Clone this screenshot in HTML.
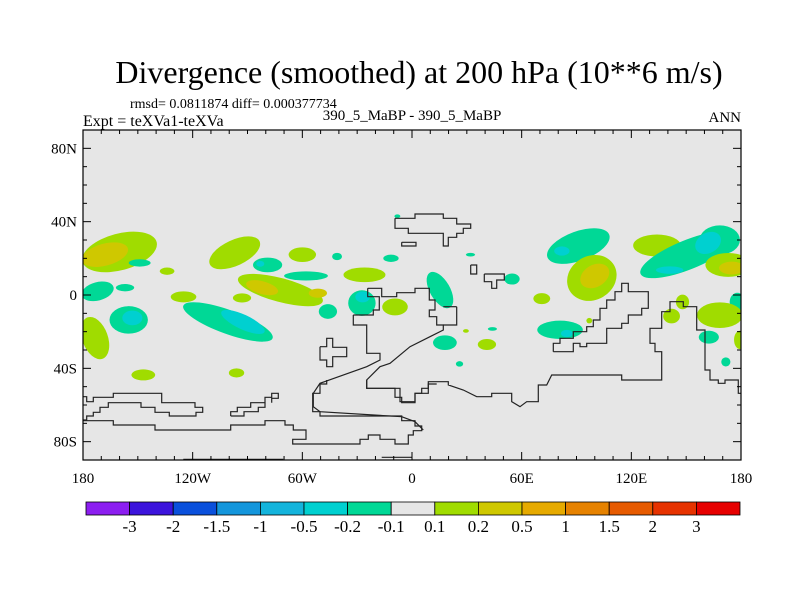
<!DOCTYPE html>
<html><head><meta charset="utf-8"><style>
body{margin:0;background:#fff;}
svg{display:block;font-family:"Liberation Serif",serif;}
</style></head><body>
<svg id="chart" width="800" height="600" viewBox="0 0 800 600" xmlns="http://www.w3.org/2000/svg">
<text x="419" y="83" font-size="32" text-anchor="middle">Divergence (smoothed) at 200 hPa (10**6 m/s)</text>
<text x="130" y="108" font-size="14">rmsd= 0.0811874 diff= 0.000377734</text>
<text x="83" y="126" font-size="16">Expt = teXVa1-teXVa</text>
<text x="412" y="120" font-size="15" text-anchor="middle">390_5_MaBP - 390_5_MaBP</text>
<text x="741" y="122" font-size="15" text-anchor="end">ANN</text>
<defs><clipPath id="clip"><rect x="83" y="130" width="658" height="330"/></clipPath></defs>
<rect x="83" y="130" width="658" height="330" fill="#e6e6e6"/>
<g id="fields" clip-path="url(#clip)"></g>
<g id="coast" clip-path="url(#clip)" fill="none" stroke="#222" stroke-width="1.2"></g>
<rect x="83" y="130" width="658" height="330" fill="none" stroke="#000" stroke-width="1.2"/>
<g id="ticks" stroke="#000" stroke-width="1"></g>
<g id="labels" font-size="15"></g>
<g id="colorbar"></g>
</svg>
<script>
// contour blobs: lon, lat, half-widths (deg), value
const blobLon=[-160,-168,-149,-134,-97,-60,-79,-83,-41,-11.5,-58,-26,-172,-157,-125,-72,-82,-51.5,-93,-46,-155,-153,-100.7,-92.5,-173.4,-147,-96,-27.4,-27,-9.3,15.3,18,41,44,29.5,26,32,54.7,-8,71,81,84.7,97,91,82,98.4,100,134,151,168.4,162,141,173,175,178,148,168.4,142,162.4,179.4,171.7];
const blobLat=[23.5,22,17.5,13,23,22,16.4,17,21,20,10.4,11,2,4,-1,2.7,4,1,-1.6,-9,-13.6,-12.5,-14.7,-14.7,-23.5,-43.6,-42.5,-4.4,-1,-6.5,2.7,-26,-27,-18.5,-19.6,-37.6,22,8.7,43,-2,-19,-21,-14,26.7,24,9.3,10.4,27,22,30,28.4,13.6,16.4,14.7,-3.8,-3.8,-11,-11.5,-23,-24.5,-36.5];
const blobRLon=[21,13,6,4,15,7.5,8,2.2,2.7,4.2,12,11.5,9,5,7,24,9,5,5,5,10.5,5.5,26,13,7,6.5,4.2,7.5,4,7,5.5,6.5,5,2.5,1.6,2,2.5,4.2,1.6,4.6,12.5,3.2,1.6,18,4.2,14,8.5,13,28,11,7.5,7.5,12.5,7,4.2,3.6,12.5,4.6,5.5,3.2,2.5];
const blobRLat=[10,6,2,2,7,4,4,1.6,2,2,2.5,4,5,2,3,6.5,3.5,2.5,2.5,4,7.5,4,6.5,4,12,3,2.5,7,3,4.6,11,4,3,1,1,1.5,1,3,1,3,5,2,1.5,8,2.5,12,6,6,8,8,5.5,2,6.5,3.5,5,4,7,4,3.5,5,2.5];
const blobTilt=[-15,-15,0,0,-25,0,0,0,0,0,0,0,-15,0,0,15,15,0,0,0,0,0,20,25,-20,0,0,0,0,0,-30,0,0,0,0,0,0,0,0,0,0,0,0,-20,0,-30,-30,0,-22,0,-30,0,0,0,0,0,0,0,0,0,0];
const blobVal=[0.15,0.3,-0.15,0.15,0.15,0.15,-0.15,-0.3,-0.15,-0.15,-0.15,0.15,-0.15,-0.15,0.15,0.15,0.3,0.3,0.15,-0.15,-0.15,-0.3,-0.15,-0.3,0.15,0.15,0.15,-0.15,-0.3,0.15,-0.15,-0.15,0.15,-0.15,0.15,-0.15,-0.15,-0.15,-0.15,0.15,-0.15,-0.3,0.15,-0.15,-0.3,0.15,0.3,0.15,-0.15,-0.15,-0.3,-0.3,0.15,0.3,-0.15,0.15,0.15,0.15,-0.15,0.15,-0.15];
const levels=[-3,-2,-1.5,-1,-0.5,-0.2,-0.1,0.1,0.2,0.5,1,1.5,2,3];
const levelColors=["#8c1ef0","#3c14dc","#0a50dc","#1496dc","#14b4dc","#00d0d0","#00d896","#e6e6e6","#a0dc00","#cfc800","#e6aa00","#e68200","#e65a00","#e63200","#e60000"];
const lonTicks=[-180,-120,-60,0,60,120,180];
const lonTickLabels=["180","120W","60W","0","60E","120E","180"];
const latTicks=[80,40,0,-40,-80];
const latTickLabels=["80N","40N","0","40S","80S"];

const X0=83,X1=741,Y0=130,Y1=460;
const xs=lon=>X0+(lon+180)/360*(X1-X0);
const ys=lat=>Y0+(90-lat)/180*(Y1-Y0);
const NS="http://www.w3.org/2000/svg";
function mk(t,p,a){const e=document.createElementNS(NS,t);for(const k in a)e.setAttribute(k,a[k]);p.appendChild(e);return e;}
function colorFor(v){let i=0;while(i<levels.length&&v>=levels[i])i++;return levelColors[i];}

const fg=document.getElementById('fields');
const order=blobVal.map((v,i)=>i).sort((a,b)=>Math.abs(blobVal[a])-Math.abs(blobVal[b]));
order.forEach(i=>{
  const cx=xs(blobLon[i]),cy=ys(blobLat[i]);
  const e=mk('ellipse',fg,{cx:cx,cy:cy,rx:blobRLon[i]/360*(X1-X0),ry:blobRLat[i]/180*(Y1-Y0),fill:colorFor(blobVal[i]),transform:`rotate(${blobTilt[i]} ${cx} ${cy})`});
  
  
});

// coastlines (geographic outlines, zoom-space coordinates)
const cg=document.getElementById('coast');
function line(pts,ox,oy,s,name){const p=mk('polyline',cg,{points:pts.map(q=>((q[0]/s+ox).toFixed(1))+','+((q[1]/s+oy).toFixed(1))).join(' ')});
  
  }
line([[285,55],[285,85],[325,85],[325,100],[430,100],[430,138],[445,138],[445,112],[470,112],[470,100],[490,100],[490,85],[512,85],[512,72],[470,72],[470,55],[430,55],[430,42],[345,42],[345,55],[285,55]],300,200,3,'coastline-europe');
line([[305,127],[348,127],[348,138],[305,138],[305,127]],300,200,3,'coastline-island');
line([[512,195],[530,195],[530,222],[512,222],[512,195]],300,200,3,'coastline-island');
line([[553,222],[613,222],[613,240],[590,240],[590,265],[575,265],[575,245],[553,245],[553,222]],300,200,3,'coastline-island');
line([[203,265],[245,265],[245,290],[290,290],[290,278],[345,278],[345,265],[388,265],[388,300],[405,300],[405,330],[388,330],[388,350],[410,350],[410,375],[430,375],[430,390],[390,410],[330,440],[270,490],[240,500],[200,540],[200,565],[300,565],[300,605],[345,605],[345,580],[385,580],[385,545],[445,545],[445,555],[490,570],[530,590],[575,590],[575,580],[635,580],[635,605],[660,620],[680,605],[715,605],[715,555],[740,555],[755,525],[965,525],[965,540],[1085,540],[1085,455],[1065,455],[1065,430],[1050,430],[1050,385],[1085,385],[1085,335],[1110,335],[1110,305],[1150,305],[1150,320],[1190,320],[1190,390],[1215,390],[1215,510],[1230,510],[1230,540],[1255,540],[1255,550],[1275,550],[1275,540],[1315,540],[1315,580],[1330,580]],300,200,3,'coastline-continent');
line([[470,320],[470,375],[430,375]],300,200,3,'coastline-africa');
line([[430,320],[470,320]],300,200,3,'coastline-africa');
line([[160,345],[160,375],[200,375],[200,460],[240,460],[240,480],[200,500],[60,550],[40,580],[40,620],[60,635],[305,650],[345,665],[370,690]],300,200,3,'coastline-south-america');
line([[203,265],[203,290],[238,290],[238,330],[220,330],[220,345],[160,345]],300,200,3,'coastline-south-america');
line([[760,455],[820,455],[820,430],[840,430],[840,440],[860,440],[860,430],[920,430],[920,385],[965,385],[965,370],[985,370],[985,345],[1025,345],[1025,325],[1045,325],[1045,275],[985,275],[985,250],[965,250],[965,275],[945,275],[945,300],[920,300],[920,325],[900,325],[900,360],[880,360],[880,380],[860,380],[860,395],[820,395],[820,415],[780,415],[780,430],[760,430],[760,455]],300,200,3,'coastline-asia');
line([[735,230],[755,230],[755,205],[773,205],[773,232],[815,232],[815,260],[773,260],[773,290],[755,290],[755,270],[735,270],[735,230]],75,270,3,'coastline-island');
// southern high-latitude outlines
line([[0,50],[20,50],[20,65],[40,65],[40,52],[100,52],[100,40],[245,40],[245,68],[345,68],[345,82],[368,82],[368,97],[348,97],[348,108],[268,108],[268,97],[225,97],[225,82],[183,82],[183,68],[85,68],[85,82],[60,82],[60,97],[40,97],[40,108],[20,108],[20,120],[0,120]],80,380,3,'coastline-southern-shelf');
line([[0,122],[100,122],[100,135],[225,135],[225,150],[452,150],[452,135],[555,135],[555,122],[615,122],[615,135],[640,135],[640,150],[678,150],[678,178],[638,178],[638,192],[840,192],[840,178],[865,178],[865,165],[900,165],[900,178],[945,178],[945,192],[985,192],[985,165],[1000,165],[1000,152],[1025,152],[1025,138],[1005,138],[1005,122],[965,122],[965,108],[720,108],[720,95],[698,95],[698,40],[720,40],[720,12],[740,12],[740,0]],80,380,3,'coastline-antarctica');
line([[452,108],[452,95],[472,95],[472,82],[512,82],[512,68],[555,68],[555,52],[575,52],[575,40],[595,40],[595,55],[575,55],[575,68]],80,380,3,'coastline-peninsula');
line([[452,108],[492,108],[492,95],[535,95],[535,82],[555,82],[555,68]],80,380,3,'coastline-peninsula');
line([[860,0],[860,25],[945,25],[945,52],[965,52],[965,68],[1005,68],[1005,40],[1025,40],[1025,25],[1045,25],[1045,12],[1070,12]],80,380,3,'coastline-south-atlantic');
line([[310,238],[610,238]],80,380,3,'coastline-bottom');
line([[905,232],[995,232]],80,380,3,'coastline-bottom');

// ticks
const tg=document.getElementById('ticks');
for(let lon=-180;lon<=180;lon+=10){const x=xs(lon),L=(lon%60===0)?8:4;
  mk('line',tg,{x1:x,y1:Y1,x2:x,y2:Y1-L});mk('line',tg,{x1:x,y1:Y0,x2:x,y2:Y0+L});}
for(let lat=-90;lat<=90;lat+=10){const y=ys(lat),L=(lat%40===0)?8:4;
  mk('line',tg,{x1:X0,y1:y,x2:X0+L,y2:y});mk('line',tg,{x1:X1,y1:y,x2:X1-L,y2:y});}
const lg=document.getElementById('labels');
lonTicks.forEach((v,i)=>{const t=mk('text',lg,{x:xs(v),y:483,'text-anchor':'middle'});t.textContent=lonTickLabels[i];
  
  });
latTicks.forEach((v,i)=>{const t=mk('text',lg,{x:X0-6,y:ys(v)+5,'text-anchor':'end'});t.textContent=latTickLabels[i];
  
  });

// colorbar
const cb=document.getElementById('colorbar');
const cbx0=86,cbx1=740,cby=502,cbh=13,bw=(cbx1-cbx0)/levelColors.length;
levelColors.forEach((c,i)=>{const r=mk('rect',cb,{x:cbx0+i*bw,y:cby,width:bw,height:cbh,fill:c,stroke:'#000','stroke-width':0.8});
  
  });
levels.forEach((v,i)=>{const t=mk('text',cb,{x:cbx0+(i+1)*bw,y:532,'text-anchor':'middle','font-size':17});t.textContent=String(v);
  
  });
</script>
</body></html>
